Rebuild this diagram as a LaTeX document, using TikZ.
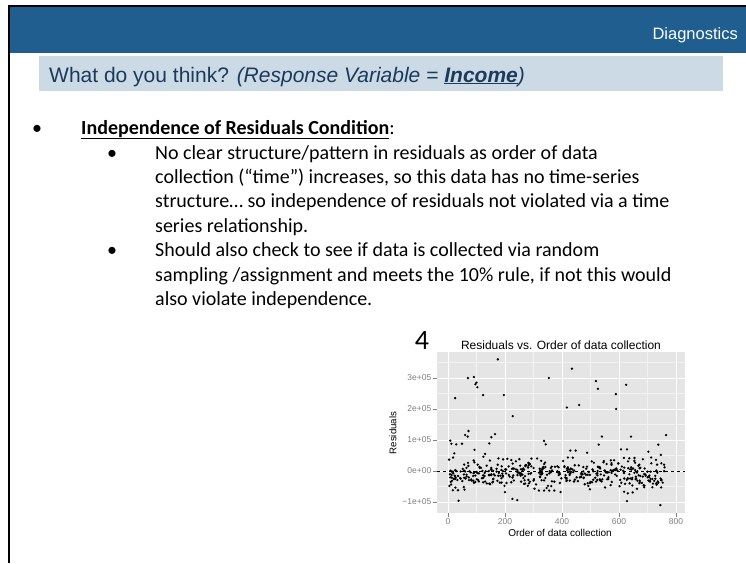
\documentclass[tikz,border=0pt]{standalone}
\usepackage{fontspec}
\setmainfont{Carlito}
\newfontfamily\arialfont{Liberation Sans}
\usetikzlibrary{positioning}

\definecolor{barblue}{HTML}{1F5E8E}
\definecolor{titlebox}{HTML}{CCDAE5}
\definecolor{titletext}{HTML}{1B3A5C}
\definecolor{panelgray}{HTML}{E5E5E5}
\definecolor{minorgray}{HTML}{F2F2F2}
\definecolor{tickgray}{HTML}{7F7F7F}

\begin{document}
\begin{tikzpicture}[x=1pt, y=-1pt,
  % Define styles
  bodytext/.style={anchor=base west, inner sep=0pt, align=left, font=\fontsize{20}{24.4}\selectfont},
  bulletmark/.style={anchor=base, inner sep=0pt, font=\fontsize{20}{24.4}\selectfont},
  ticklab/.style={inner sep=1.5pt, text=tickgray, font=\arialfont\fontsize{8.5}{10}\selectfont},
  tickline/.style={draw=tickgray, line width=0.5pt},
  majorline/.style={draw=white, line width=0.9pt},
  minorline/.style={draw=minorgray, line width=0.5pt},
  datapoint/.style={fill=black}
  ]

  \useasboundingbox (0,0) rectangle (746,563);

  % Header bar and frame
  \fill[barblue] (10,7) rectangle (746,53);
  \draw[black, line width=2pt] (9,563) -- (9,6) -- (746,6);
  \node[anchor=base east, inner sep=0pt, text=white, font=\arialfont\fontsize{16.5}{18}\selectfont] (diagtag) at (738,39) {Diagnostics};

  % Title box
  \fill[titlebox] (39,56) rectangle (723,91);
  \node[anchor=base west, inner sep=0pt, text=titletext, font=\arialfont\fontsize{21}{24}\selectfont] (headline) at (49,82)
    {What do you think? \textit{(Response Variable = \underline{\textbf{Income}})}};

  % Bullets (multi-line nodes sit on the baseline of their last line)
  \node[bulletmark] (bulleta) at (37,134) {\textbullet};
  \node[bodytext] (condhead) at (81,134) {\underline{\textbf{Independence of Residuals Condition}}:};
  \node[bulletmark] (bulletb) at (112,159) {\textbullet};
  \node[bodytext] (firstpoint) at (155,232.2) {No clear structure/pattern in residuals as order of data\\
    collection (“time”) increases, so this data has no time-series\\
    structure… so independence of residuals not violated via a time\\
    series relationship.};
  \node[bulletmark] (bulletc) at (112,256.6) {\textbullet};
  \node[bodytext] (secondpoint) at (155,305.4) {Should also check to see if data is collected via random\\
    sampling /assignment and meets the 10\% rule, if not this would\\
    also violate independence.};

  % Plot label and title
  \node[inner sep=0pt, font=\fontsize{28}{30}\selectfont] (plotnum) at (422,341) {4};
  \node[inner sep=0pt, font=\arialfont\fontsize{12}{14}\selectfont] (plottitle) at (561,345) {Residuals vs. Order of data collection};

  % Residual plot
  \begin{scope}[shift={(448,471)}, x=0.285pt, y=31pt]
    \fill[panelgray] (-38.6,-1.35) rectangle (831.6,3.84);
    \foreach \gx in {100,300,500,700}
      \draw[minorline] (\gx,-1.35) -- (\gx,3.84);
    \foreach \gy in {-0.5,0.5,1.5,2.5,3.5}
      \draw[minorline] (-38.6,\gy) -- (831.6,\gy);
    \foreach \gx in {0,200,400,600,800}
      \draw[majorline] (\gx,-1.35) -- (\gx,3.84);
    \foreach \gy in {-1,0,1,2,3}
      \draw[majorline] (-38.6,\gy) -- (831.6,\gy);

    % bulk of the residuals
    \pgfmathsetseed{2718}
    \foreach \k in {1,...,430}{
      \pgfmathsetmacro{\ox}{762*rnd}
      \pgfmathsetmacro{\oy}{0.56*(rnd+rnd-1)-0.07}
      \fill[datapoint] (\ox,\oy) circle[radius=1.3pt];
    }
    % larger residuals
    \foreach \ox/\oy in {175/3.6, 70/3.0, 91/3.03, 100/2.85, 96/2.8, 103/2.7, 123/2.45, 25/2.35,
        196/2.45, 354/3.0, 435/3.3, 519/2.9, 526/2.65, 589/2.48, 625/2.78, 417/2.05, 460/2.13,
        590/2.0, 227/1.77, 8/0.98, 12/0.88, 29/0.86, 49/0.88, 60/1.16, 69/1.11, 72/1.29,
        145/0.89, 152/1.09, 165/1.19, 93/0.68, 22/0.57, 130/0.55, 124/0.46, 337/0.97, 343/0.86,
        529/0.85, 540/1.11, 642/1.11, 765/1.16, 738/0.85, 747/0.52, 703/0.62, 429/0.66, 448/0.66,
        488/0.59, 607/0.70, 628/0.70, 636/0.41, 37/-0.96, 226/-0.90, 243/-0.94, 319/-0.63,
        337/-0.63, 355/-0.63, 373/-0.63, 395/-0.68, 745/-1.10, 648/-0.69, 628/-0.97, 618/-0.67,
        631/-0.72, 498/-0.59, 748/-0.53, 17/-0.62, 35/-0.62, 58/-0.60, 200/-0.68}
      \fill[datapoint] (\ox,\oy) circle[radius=1.3pt];
    \draw[black, dashed, line width=0.7pt] (-38.6,0) -- (831.6,0);

    % axes
    \foreach \gy/\lab in {-1/−1e+05, 0/0e+00, 1/1e+05, 2/2e+05, 3/3e+05}
      \draw[tickline] (-38.6,\gy) -- ++(-4pt,0) node[ticklab, anchor=east] (ytick\gy) {\lab};
    \foreach \gx in {0,200,400,600,800}
      \draw[tickline] (\gx,-1.35) -- ++(0,-4pt) node[ticklab, anchor=north] (xtick\gx) {\gx};
  \end{scope}

  \node[rotate=90, inner sep=0pt, font=\arialfont\fontsize{9.7}{11}\selectfont] (ylab) at (393,433) {Residuals};
  \node[inner sep=0pt, font=\arialfont\fontsize{10}{12}\selectfont] (xlab) at (560,533) {Order of data collection};

\end{tikzpicture}
\end{document}
